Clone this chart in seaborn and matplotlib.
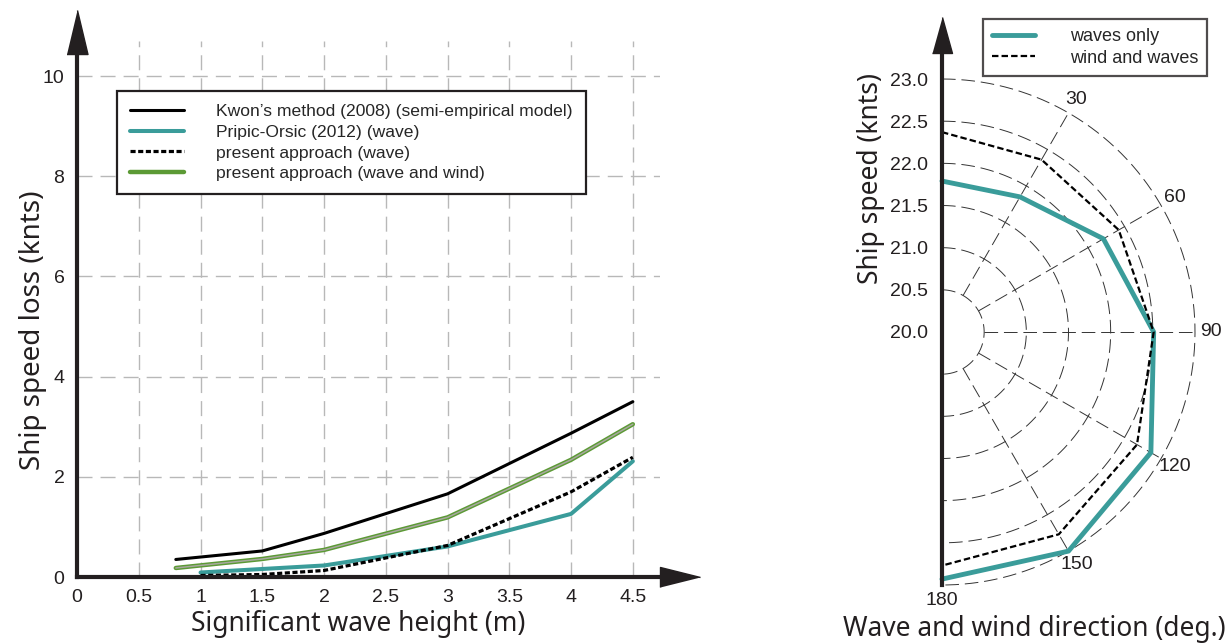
import numpy as np
import matplotlib
matplotlib.use('Agg')
import matplotlib.pyplot as plt
import seaborn as sns

# left panel: ship speed loss vs significant wave height
hs_kwon = [0.8, 1.5, 2.0, 3.0, 4.0, 4.5]
loss_kwon = [0.35, 0.52, 0.87, 1.66, 2.87, 3.50]
hs_wind = [0.8, 1.5, 2.0, 3.0, 4.0, 4.5]
loss_wind = [0.18, 0.36, 0.54, 1.19, 2.34, 3.05]
hs_pripic = [1.0, 1.5, 2.0, 3.0, 4.0, 4.5]
loss_pripic = [0.09, 0.16, 0.23, 0.61, 1.26, 2.31]
hs_wave = [1.0, 1.5, 2.0, 3.0, 4.0, 4.5]
loss_wave = [0.03, 0.05, 0.13, 0.63, 1.70, 2.39]

# right panel: ship speed vs wave/wind direction (polar)
direction = [0, 30, 60, 90, 120, 150, 180]
speed_waves = [21.79, 21.85, 22.21, 22.51, 22.86, 23.0, 22.93]
speed_wind_waves = [22.37, 22.36, 22.42, 22.51, 22.67, 22.77, 22.77]

teal = '#3a9c9a'
green = '#5c9a35'
ink = '#231f20'

sns.set_style('white')
plt.rcParams['font.family'] = ['Liberation Sans', 'DejaVu Sans']
label_font = 'Noto Sans'

W, H = 1229, 644
fig = plt.figure(figsize=(W / 100, H / 100), dpi=100)

# ---------------- left chart ----------------
ax1 = fig.add_axes([77 / W, (H - 577) / H, (660 - 77) / W, (577 - 41) / H])
ax1.set_facecolor('none')
ax1.set_xlim(0, 4.72)
ax1.set_ylim(0, 10.7)

grid_kw = dict(color='#b8b8b8', lw=1.0, ls=(0, (10.8, 5.8)), zorder=0)
for gx in np.arange(0.5, 4.51, 0.5):
    ax1.axvline(gx, **grid_kw)
for gy in range(2, 11, 2):
    ax1.axhline(gy, **grid_kw)

sns.lineplot(x=hs_kwon, y=loss_kwon, ax=ax1, color='black', lw=2.2,
             label="Kwon\u2019s method (2008) (semi-empirical model)")
sns.lineplot(x=hs_pripic, y=loss_pripic, ax=ax1, color=teal, lw=2.9,
             label='Pripic-Orsic (2012) (wave)')
sns.lineplot(x=hs_wave, y=loss_wave, ax=ax1, color='black', lw=2.3,
             ls=(0, (1.6, 0.8)), label='present approach (wave)')
sns.lineplot(x=hs_wind, y=loss_wind, ax=ax1, color=green, lw=3.2,
             label='present approach (wave and wind)')
# lighter core of the green double line
ax1.plot(hs_wind, loss_wind, color='#a8a8a0', lw=1.1, zorder=3)

xt = np.arange(0, 4.51, 0.5)
ax1.set_xticks(xt)
ax1.set_xticklabels(['0', '0.5', '1', '1.5', '2', '2.5', '3', '3.5', '4', '4.5'])
ax1.set_yticks(range(0, 11, 2))
ax1.tick_params(axis='both', direction='out', length=6, width=2, color=ink,
                labelsize=14, labelcolor=ink, pad=3)
for s in ['top', 'right']:
    ax1.spines[s].set_visible(False)
for s in ['left', 'bottom']:
    ax1.spines[s].set_linewidth(3)
    ax1.spines[s].set_color(ink)
ax1.plot([0], [10.88], marker=[(-1, -2.1), (1, -2.1), (0, 2.1)], ms=31.7,
         color=ink, clip_on=False)
ax1.plot([4.88], [0], marker=[(-2, -1), (-2, 1), (2, 0)], ms=28.8,
         color=ink, clip_on=False)

ax1.set_xlabel('Significant wave height (m)', fontsize=19, family=label_font, color=ink)
ax1.set_ylabel('Ship speed loss (knts)', fontsize=20, family=label_font, color=ink)
ax1.xaxis.set_label_coords(0.482, -0.062)
ax1.yaxis.set_label_coords(-0.052, 0.46)

leg1 = ax1.legend(loc='upper left', bbox_to_anchor=(0.0686, 0.907), borderaxespad=0,
                  fontsize=12.6, frameon=True, fancybox=False, edgecolor=ink,
                  handlelength=3.1, handletextpad=1.8, labelspacing=0.31,
                  borderpad=0.75)
leg1.get_frame().set_linewidth(1.6)
leg1.get_frame().set_facecolor('white')
leg1.get_frame().set_alpha(1)

# ---------------- right chart (polar) ----------------
R = 253
ax2 = fig.add_axes([(942 - R) / W, (H - 585) / H, 2 * R / W, 2 * R / H], projection='polar')
ax2.set_facecolor('none')
ax2.set_theta_zero_location('N')
ax2.set_theta_direction(-1)
ax2.set_ylim(20, 23)
rings = np.arange(20.5, 23.01, 0.5)
ax2.set_yticks([])
ax2.set_xticks(np.deg2rad([30, 60, 90, 120, 150, 180]))
ax2.set_xticklabels(['30', '60', '90', '120', '150', '180'])
ax2.tick_params(axis='x', labelsize=14, labelcolor=ink, pad=1)
ax2.grid(False)
for sp in ax2.spines.values():
    sp.set_visible(False)

# dashed rings and spokes over the right half only
grid_style = dict(color='#333333', lw=0.7, ls=(0, (14, 6)), zorder=1, clip_on=False)
half = np.linspace(0, np.pi, 300)
for r in rings:
    ax2.plot(half, np.full_like(half, r), **grid_style)
for d in [30, 60, 90, 120, 150]:
    ax2.plot([np.deg2rad(d)] * 2, [rings[0], rings[-1]], **grid_style)

theta = np.deg2rad(direction)
sns.lineplot(x=theta, y=speed_waves, ax=ax2, color=teal, lw=3.5,
             label='waves only', legend=False)
sns.lineplot(x=theta, y=speed_wind_waves, ax=ax2, color='black', lw=1.6,
             ls=(0, (2.9, 1.4)), label='wind and waves', legend=False)
for ln in ax2.lines:
    ln.set_clip_on(False)

# straight radial axis on the left of the polar plot
ax3 = fig.add_axes([942 / W, (H - 585) / H, R / W, (585 - 53) / H])
ax3.set_facecolor('none')
ax3.set_ylim(17, 17 + (585 - 53) / (R / 3))
ax3.set_xlim(0, 1)
ax3.set_xticks([])
ax3.set_yticks(np.arange(20, 23.01, 0.5))
ax3.set_yticklabels([f'{v:.1f}' for v in np.arange(20, 23.01, 0.5)])
ax3.tick_params(axis='y', direction='out', length=7, width=2, color=ink,
                labelsize=14, labelcolor=ink, pad=3)
for s in ['top', 'right', 'bottom']:
    ax3.spines[s].set_visible(False)
ax3.spines['left'].set_linewidth(3)
ax3.spines['left'].set_color(ink)
ax3.plot([0], [17 + (585 - 35) / (R / 3)], marker=[(-1, -1.8), (1, -1.8), (0, 1.8)],
         ms=25.9, color=ink, clip_on=False)
ax3.set_ylabel('Ship speed (knts)', fontsize=19, family=label_font, color=ink)
ax3.yaxis.set_label_coords(-0.225, 0.765)
ax3.set_xlabel('Wave and wind direction (deg.)', fontsize=19, family=label_font, color=ink)
ax3.xaxis.set_label_coords(0.364, -0.056)

handles = ax2.get_lines()[-2:]
leg2 = ax3.legend(handles, ['waves only', 'wind and waves'], loc='upper left',
                  bbox_to_anchor=(983 / W, 1 - 19 / H), bbox_transform=fig.transFigure,
                  borderaxespad=0, fontsize=13, frameon=True, fancybox=False,
                  edgecolor=ink, handlelength=2.4, handletextpad=1.9,
                  labelspacing=0.25, borderpad=0.5)
leg2.get_frame().set_linewidth(1.6)

fig.savefig('out.png', dpi=100)
